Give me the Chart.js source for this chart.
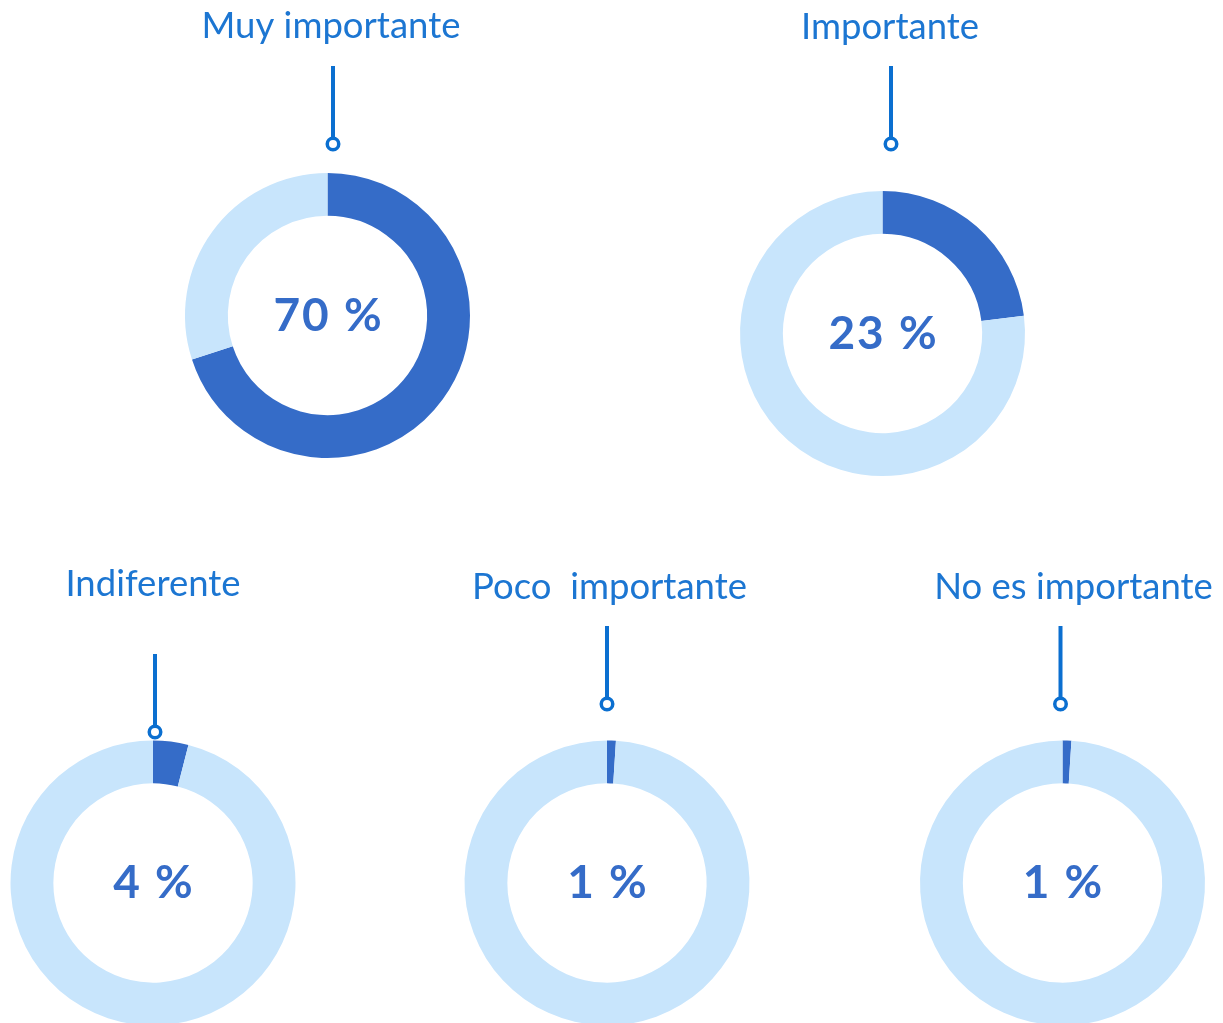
<!DOCTYPE html>
<html lang="es">
<head>
<meta charset="utf-8">
<title>Importancia</title>
<script src="https://cdn.jsdelivr.net/npm/chart.js@4.4.1/dist/chart.umd.min.js"></script>
<style>
  html, body { margin: 0; padding: 0; background: #ffffff; overflow: hidden; width: 1223px; height: 1023px; }
  #board { position: relative; width: 1223px; height: 1023px; }
  #board canvas { position: absolute; left: 0; top: 0; }
</style>
</head>
<body>
<div id="board"></div>
<script>
// Answer categories and their share of responses (%)
const categories = ['Muy importante', 'Importante', 'Indiferente', 'Poco  importante', 'No es importante'];
const shares = [70, 23, 4, 1, 1];

// Placement of each ring on the page (px)
const centerX = [327.5, 882.5, 153, 607, 1062.5];
const centerY = [315.5, 333.5, 883, 883, 883];
const labelX = [331, 890, 153, 609.5, 1073.5];
const labelBaseline = [38, 38.5, 596, 599, 599];
const stemX = [333, 891, 155, 607, 1060.5];
const stemTop = [66, 66, 654, 626, 626];
const dotY = [144, 144, 732, 704, 704];

const PAGE_W = 1223, PAGE_H = 1030;
const OUTER_R = 142.5, INNER_R = 100;
const BOX = 286;

const DARK = '#356cc8';
const LIGHT = '#c8e5fc';
const LABEL_COLOR = '#1c76d2';
const STEM_COLOR = '#0b6fd0';

// Draws the category label, the stem with its ring marker, and the value in the hole
const decorations = {
  id: 'decorations',
  afterDraw(chart, args, opts) {
    const ctx = chart.ctx;
    const arc = chart.getDatasetMeta(0).data[0];
    const i = opts.index;
    ctx.save();

    // category label
    ctx.fillStyle = LABEL_COLOR;
    ctx.font = '400 36.5px Lato, "Noto Sans", sans-serif';
    ctx.textAlign = 'center';
    ctx.textBaseline = 'alphabetic';
    ctx.fillText(categories[i], labelX[i], labelBaseline[i]);

    // stem and ring marker
    const dotR = 5.75;
    ctx.strokeStyle = STEM_COLOR;
    ctx.lineWidth = 4;
    ctx.beginPath();
    ctx.moveTo(stemX[i], stemTop[i]);
    ctx.lineTo(stemX[i], dotY[i] - dotR);
    ctx.stroke();
    ctx.beginPath();
    ctx.arc(stemX[i], dotY[i], dotR, 0, Math.PI * 2);
    ctx.fillStyle = '#ffffff';
    ctx.fill();
    ctx.lineWidth = 3.5;
    ctx.stroke();

    // value in the centre
    ctx.fillStyle = DARK;
    ctx.font = '700 46px Lato, "Noto Sans", sans-serif';
    ctx.letterSpacing = '2px';
    ctx.textAlign = 'center';
    ctx.textBaseline = 'alphabetic';
    ctx.fillText(shares[i] + ' %', arc.x + 1, arc.y + 15);

    ctx.restore();
  }
};

const board = document.getElementById('board');

shares.forEach((value, i) => {
  const canvas = document.createElement('canvas');
  canvas.width = PAGE_W;
  canvas.height = PAGE_H;
  canvas.style.width = PAGE_W + 'px';
  canvas.style.height = PAGE_H + 'px';
  board.appendChild(canvas);

  const half = BOX / 2;
  new Chart(canvas, {
    type: 'doughnut',
    data: {
      labels: [categories[i], 'Resto'],
      datasets: [{
        data: [value, 100 - value],
        backgroundColor: [DARK, LIGHT],
        borderWidth: 0,
        offset: 0,
        hoverOffset: 0,
        spacing: 0
      }]
    },
    options: {
      responsive: false,
      animation: false,
      events: [],
      radius: OUTER_R,
      cutout: INNER_R,
      rotation: 0,
      circumference: 360,
      layout: {
        padding: {
          left: centerX[i] - half,
          top: centerY[i] - half,
          right: PAGE_W - centerX[i] - half,
          bottom: PAGE_H - centerY[i] - half
        }
      },
      plugins: {
        legend: { display: false },
        tooltip: { enabled: false },
        title: { display: false },
        decorations: { index: i }
      }
    },
    plugins: [decorations]
  });
});
</script>
</body>
</html>
